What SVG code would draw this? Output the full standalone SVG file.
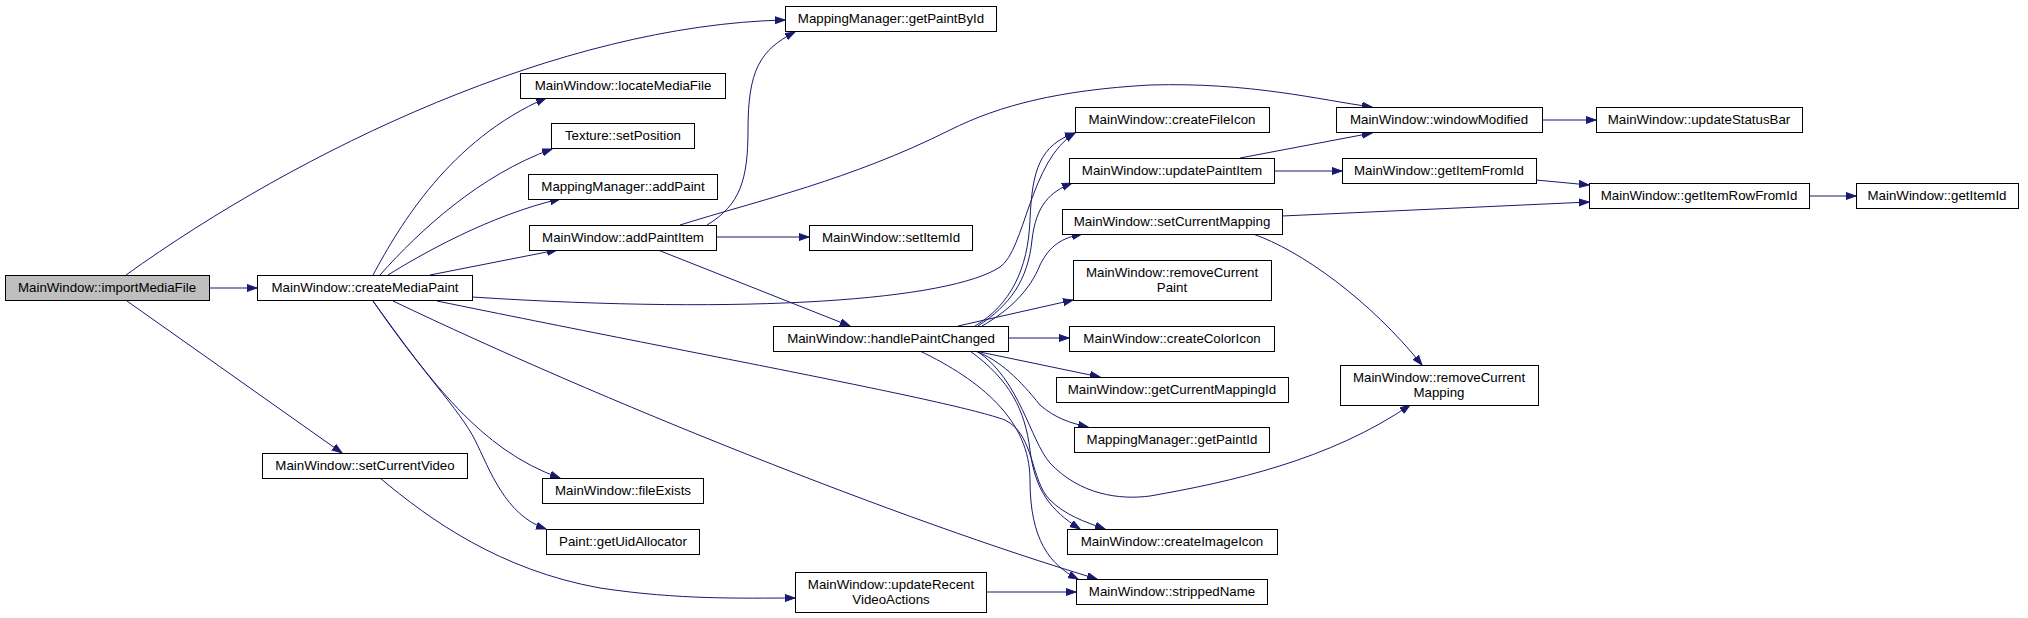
<svg xmlns="http://www.w3.org/2000/svg" width="2028" height="618" viewBox="0 0 2028 618">
<style>
.node rect{fill:#fff;stroke:#000;stroke-width:1}
.node.root rect{fill:#bfbfbf}
.node text{font-family:"Liberation Sans",Arial,Helvetica,sans-serif;font-size:13.3px;text-anchor:middle;fill:#000}
.edges path{fill:none;stroke:#191970;stroke-width:1;marker-end:url(#ah)}
</style>
<defs>
<marker id="ah" markerWidth="11" markerHeight="9" refX="10" refY="4" orient="auto" markerUnits="userSpaceOnUse">
<path d="M0,0.5 L10,4 L0,7.5 Z" fill="#191970" stroke="#191970" stroke-width="1"/>
</marker>
</defs>
<rect width="2028" height="618" fill="#fff"/>
<g id="edges" class="edges">
<path d="M209,288 L257,288"/>
<path d="M126,275 C300,150 560,25 785,20"/>
<path d="M127,301 L342,453"/>
<path d="M373,275 C400,225 450,140 546,98"/>
<path d="M380,275 C420,230 480,175 552,149"/>
<path d="M388,275 C420,255 490,215 560,199"/>
<path d="M430,275 L557,250"/>
<path d="M472,297 C750,315 950,300 1000,267 C1025,250 1030,160 1075,133"/>
<path d="M373,301 C430,380 480,450 560,478"/>
<path d="M373,301 C420,370 460,410 475,440 C490,470 505,515 546,529"/>
<path d="M437,301 C700,355 950,400 1005,420 C1035,435 1030,480 1050,500 C1065,515 1085,522 1105,529"/>
<path d="M393,301 C600,400 900,520 1097,579"/>
<path d="M707,225 C740,205 748,180 748,130 C748,70 760,50 795,32"/>
<path d="M680,225 C760,200 850,180 950,130 C1000,105 1060,90 1150,85 C1250,82 1320,100 1372,107"/>
<path d="M716,237 L809,237"/>
<path d="M658,250 L850,326"/>
<path d="M975,326 C1010,305 1028,270 1030,220 C1032,170 1040,145 1075,133"/>
<path d="M978,326 C1010,305 1028,280 1032,240 C1036,205 1050,192 1072,183"/>
<path d="M982,326 C1010,310 1030,290 1040,265 C1050,245 1062,238 1082,234"/>
<path d="M958,326 L1073,300"/>
<path d="M1008,338 L1069,338"/>
<path d="M975,351 L1100,377"/>
<path d="M975,351 C1000,360 1020,380 1040,405 C1055,418 1070,423 1088,427"/>
<path d="M977,351 C1020,380 1030,440 1050,463 C1080,495 1120,500 1150,496 C1230,482 1330,460 1410,405"/>
<path d="M970,351 C1010,380 1025,410 1030,450 C1035,490 1050,510 1080,529"/>
<path d="M920,351 C980,380 1030,420 1030,480 C1030,540 1050,565 1078,579"/>
<path d="M1240,158 L1372,133"/>
<path d="M1274,171 L1342,171"/>
<path d="M1542,120 L1596,120"/>
<path d="M1536,180 L1589,185"/>
<path d="M1282,216 L1589,202"/>
<path d="M1809,196 L1856,196"/>
<path d="M1253,234 C1300,250 1370,300 1422,365"/>
<path d="M380,478 C430,520 500,570 600,588 C680,600 740,598 795,598"/>
<path d="M986,592 L1076,592"/>
</g>
<g id="importMediaFile" class="node root"><rect x="5.5" y="275.5" width="204" height="25"/><text x="107" y="292">MainWindow::importMediaFile</text></g>
<g id="createMediaPaint" class="node"><rect x="257.5" y="275.5" width="215" height="25"/><text x="365" y="292">MainWindow::createMediaPaint</text></g>
<g id="getPaintById" class="node"><rect x="785.5" y="6.5" width="211" height="25"/><text x="891" y="23">MappingManager::getPaintById</text></g>
<g id="locateMediaFile" class="node"><rect x="520.5" y="73.5" width="205" height="25"/><text x="623" y="90">MainWindow::locateMediaFile</text></g>
<g id="setPosition" class="node"><rect x="551.5" y="123.5" width="143" height="25"/><text x="623" y="140">Texture::setPosition</text></g>
<g id="addPaint" class="node"><rect x="528.5" y="174.5" width="189" height="25"/><text x="623" y="191">MappingManager::addPaint</text></g>
<g id="addPaintItem" class="node"><rect x="529.5" y="225.5" width="187" height="25"/><text x="623" y="242">MainWindow::addPaintItem</text></g>
<g id="setItemId" class="node"><rect x="809.5" y="225.5" width="163" height="25"/><text x="891" y="242">MainWindow::setItemId</text></g>
<g id="handlePaintChanged" class="node"><rect x="773.5" y="326.5" width="235" height="25"/><text x="891" y="343">MainWindow::handlePaintChanged</text></g>
<g id="fileExists" class="node"><rect x="542.5" y="478.5" width="161" height="25"/><text x="623" y="495">MainWindow::fileExists</text></g>
<g id="getUidAllocator" class="node"><rect x="546.5" y="529.5" width="153" height="25"/><text x="623" y="546">Paint::getUidAllocator</text></g>
<g id="setCurrentVideo" class="node"><rect x="262.5" y="453.5" width="205" height="25"/><text x="365" y="470">MainWindow::setCurrentVideo</text></g>
<g id="updateRecentVideoActions" class="node"><rect x="795.5" y="572.5" width="191" height="40"/><text x="891" y="589">MainWindow::updateRecent</text><text x="891" y="603.5">VideoActions</text></g>
<g id="createFileIcon" class="node"><rect x="1075.5" y="107.5" width="194" height="25"/><text x="1172" y="124">MainWindow::createFileIcon</text></g>
<g id="windowModified" class="node"><rect x="1336.5" y="107.5" width="206" height="25"/><text x="1439" y="124">MainWindow::windowModified</text></g>
<g id="updateStatusBar" class="node"><rect x="1596.5" y="107.5" width="206" height="25"/><text x="1699" y="124">MainWindow::updateStatusBar</text></g>
<g id="updatePaintItem" class="node"><rect x="1069.5" y="158.5" width="205" height="25"/><text x="1172" y="175">MainWindow::updatePaintItem</text></g>
<g id="getItemFromId" class="node"><rect x="1342.5" y="158.5" width="194" height="25"/><text x="1439" y="175">MainWindow::getItemFromId</text></g>
<g id="setCurrentMapping" class="node"><rect x="1062.5" y="209.5" width="220" height="25"/><text x="1172" y="226">MainWindow::setCurrentMapping</text></g>
<g id="getItemRowFromId" class="node"><rect x="1589.5" y="183.5" width="220" height="25"/><text x="1699" y="200">MainWindow::getItemRowFromId</text></g>
<g id="getItemId" class="node"><rect x="1856.5" y="183.5" width="162" height="25"/><text x="1937" y="200">MainWindow::getItemId</text></g>
<g id="removeCurrentPaint" class="node"><rect x="1073.5" y="260.5" width="198" height="40"/><text x="1172" y="277">MainWindow::removeCurrent</text><text x="1172" y="291.5">Paint</text></g>
<g id="createColorIcon" class="node"><rect x="1069.5" y="326.5" width="205" height="25"/><text x="1172" y="343">MainWindow::createColorIcon</text></g>
<g id="getCurrentMappingId" class="node"><rect x="1056.5" y="377.5" width="232" height="25"/><text x="1172" y="394">MainWindow::getCurrentMappingId</text></g>
<g id="getPaintId" class="node"><rect x="1074.5" y="427.5" width="195" height="25"/><text x="1172" y="444">MappingManager::getPaintId</text></g>
<g id="createImageIcon" class="node"><rect x="1067.5" y="529.5" width="210" height="25"/><text x="1172" y="546">MainWindow::createImageIcon</text></g>
<g id="strippedName" class="node"><rect x="1076.5" y="579.5" width="191" height="25"/><text x="1172" y="596">MainWindow::strippedName</text></g>
<g id="removeCurrentMapping" class="node"><rect x="1340.5" y="365.5" width="198" height="40"/><text x="1439" y="382">MainWindow::removeCurrent</text><text x="1439" y="396.5">Mapping</text></g>
</svg>
